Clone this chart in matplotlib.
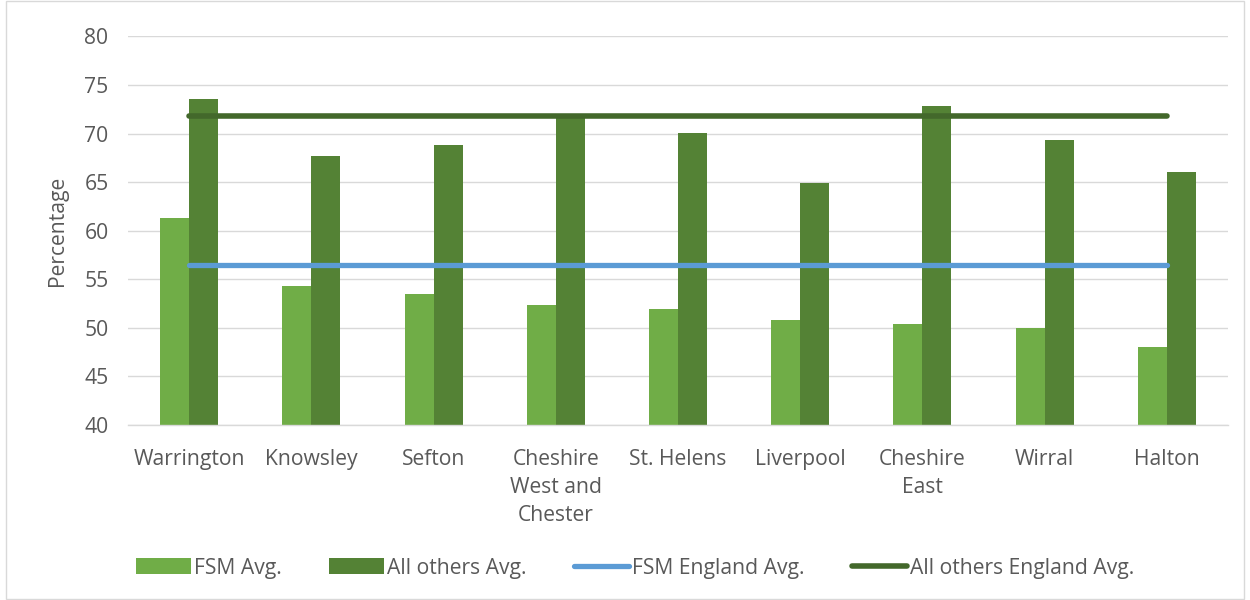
import matplotlib
matplotlib.use("Agg")
import matplotlib.pyplot as plt
import numpy as np
from matplotlib.patches import Rectangle

plt.rcParams['font.family'] = ['Open Sans', 'DejaVu Sans']

categories = ["Warrington", "Knowsley", "Sefton", "Cheshire\nWest and\nChester",
              "St. Helens", "Liverpool", "Cheshire\nEast", "Wirral", "Halton"]
fsm_avg = [61.3, 54.3, 53.5, 52.4, 51.9, 50.8, 50.4, 50.0, 48.0]
others_avg = [73.6, 67.7, 68.8, 72.0, 70.1, 64.9, 72.8, 69.3, 66.0]
fsm_england = [56.5] * len(categories)
others_england = [71.8] * len(categories)

TXT = '#595959'
GRID = '#d9d9d9'
FS = 15.2

fig = plt.figure(figsize=(12.5, 6.0), dpi=100)
ax = fig.add_axes([0.1024, 0.2917, 0.88, 0.6476])

x = np.arange(len(categories))
w = 0.237
b1 = ax.bar(x - w/2, fsm_avg, width=w, color='#70AD47', label='FSM Avg.', zorder=2)
b2 = ax.bar(x + w/2, others_avg, width=w, color='#548235', label='All others Avg.', zorder=2)
l1, = ax.plot(x, fsm_england, color='#5B9BD5', lw=3.8, solid_capstyle='round',
              label='FSM England Avg.', zorder=3)
l2, = ax.plot(x, others_england, color='#43682B', lw=4.0, solid_capstyle='round',
              label='All others England Avg.', zorder=3)

ax.set_xlim(-0.5, len(categories) - 0.5)
ax.set_ylim(40, 80)
ax.set_yticks(np.arange(40, 81, 5))
ax.yaxis.grid(True, color=GRID, lw=1.0, zorder=0)
ax.set_axisbelow(True)
for s in ['left', 'right', 'top']:
    ax.spines[s].set_visible(False)
ax.spines['bottom'].set_color(GRID)
ax.spines['bottom'].set_linewidth(1.0)
ax.tick_params(axis='both', length=0, labelsize=FS, colors=TXT)
ax.tick_params(axis='y', pad=14)
ax.tick_params(axis='x', pad=17)
ax.set_xticks(x)
ax.set_xticklabels(categories, linespacing=1.45, va='top')
ax.set_ylabel('Percentage', fontsize=FS, color=TXT, labelpad=12)

leg = fig.legend([b1, b2, l1, l2],
                 ['FSM Avg.', 'All others Avg.', 'FSM England Avg.', 'All others England Avg.'],
                 loc='center', bbox_to_anchor=(0.508, 0.053), ncol=4, frameon=False,
                 fontsize=FS, handlelength=2.6, handleheight=0.8, handletextpad=0.15,
                 columnspacing=2.25, labelcolor=TXT)

fig.patches.append(Rectangle((0.005, 0.002), 0.99, 0.996, transform=fig.transFigure,
                             fill=False, edgecolor=GRID, lw=1.0))

fig.savefig('out.png', dpi=100)
